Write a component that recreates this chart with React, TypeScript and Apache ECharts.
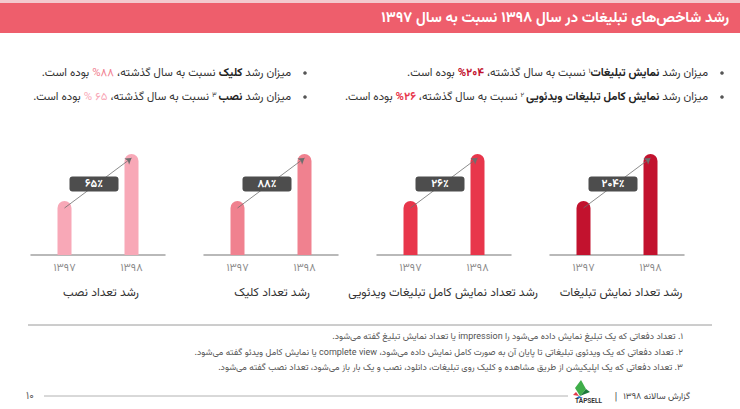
import React, { useEffect, useRef } from "react";
import * as echarts from "echarts";

// ---------- content ----------
const titleText = "رشد شاخص‌های تبلیغات در سال ۱۳۹۸ نسبت به سال ۱۳۹۷";
const years = ["۱۳۹۷", "۱۳۹۸"];
const panelTitles = [
  "رشد تعداد نصب",
  "رشد تعداد کلیک",
  "رشد تعداد نمایش کامل تبلیغات ویدئویی",
  "رشد تعداد نمایش تبلیغات",
];
const growthLabels = ["۶۵٪", "۸۸٪", "۲۶٪", "۲۰۴٪"];
// bar heights as drawn (schematic index values)
const bars1397 = [54, 54, 54, 54];
const bars1398 = [101, 101, 101, 101];
const panelColors = ["#F8A8B7", "#F0818F", "#E8364B", "#C2122E"];

// bullet lines: tokens in visual order (left to right)
const bulletRight1 = [
  ["reg", "بوده است."],
  ["p4", "%۲۰۴"],
  ["reg", "نسبت به سال گذشته،"],
  ["supn", "۱"],
  ["b", "نمایش تبلیغات"],
  ["reg", "میزان رشد"],
];
const bulletRight2 = [
  ["reg", "بوده است."],
  ["p3", "%۲۶"],
  ["reg", "نسبت به سال گذشته،"],
  ["sup", "۲"],
  ["b", "نمایش کامل تبلیغات ویدئویی"],
  ["reg", "میزان رشد"],
];
const bulletLeft1 = [
  ["reg", "بوده است."],
  ["p2", "%۸۸"],
  ["reg", "نسبت به سال گذشته،"],
  ["b", "کلیک"],
  ["reg", "میزان رشد"],
];
const bulletLeft2 = [
  ["reg", "بوده است."],
  ["p1", "% ۶۵"],
  ["reg", "نسبت به سال گذشته،"],
  ["sup", "۳"],
  ["b", "نصب"],
  ["reg", "میزان رشد"],
];

const footnotes = [
  "۱. تعداد دفعاتی که یک تبلیغ نمایش داده می‌شود را impression یا تعداد نمایش تبلیغ گفته می‌شود.",
  "۲. تعداد دفعاتی که یک ویدئوی تبلیغاتی تا پایان آن به صورت کامل نمایش داده می‌شود، complete view یا نمایش کامل ویدئو گفته می‌شود.",
  "۳. تعداد دفعاتی که یک اپلیکیشن از طریق مشاهده و کلیک روی تبلیغات، دانلود، نصب و یک بار باز می‌شود، تعداد نصب گفته می‌شود.",
];
const pageNumber = "۱۰";
const footerText = "گزارش سالانه ۱۳۹۸";
const brandText = "TAPSELL";

// ---------- helpers ----------
const FONT = "Vazirmatn, 'Noto Sans Arabic', 'DejaVu Sans', sans-serif";
const rtl = (s: string) => "\u202B" + s + "\u202C";
const FS = 11.4;

function richLine(tokens: string[][]) {
  return tokens
    .map(([k, s], i) => {
      const last = i === tokens.length - 1;
      const sp = last || k === "supn" ? "" : " ";
      const body = /^[%۰-۹ ]+$/.test(s) ? s : rtl(s);
      return `{${k}|${body}${sp}}`;
    })
    .join("");
}

const richStyles = {
  reg: { fontSize: FS, fontFamily: FONT, fill: "#333" },
  b: { fontSize: FS, fontFamily: FONT, fill: "#222", fontWeight: "bold" },
  sup: { fontSize: 7, fontFamily: FONT, fill: "#333", verticalAlign: "top" },
  supn: { fontSize: 7, fontFamily: FONT, fill: "#333", verticalAlign: "top" },
  p1: { fontSize: FS, fontFamily: FONT, fill: panelColors[0] },
  p2: { fontSize: FS, fontFamily: FONT, fill: panelColors[1] },
  p3: { fontSize: FS, fontFamily: FONT, fill: panelColors[2], fontWeight: "bold" },
  p4: { fontSize: FS, fontFamily: FONT, fill: panelColors[3], fontWeight: "bold" },
};

export default function App() {
  const ref = useRef<HTMLDivElement>(null);
  useEffect(() => {
    const el = ref.current!;
    const chart = echarts.init(el, null, { renderer: "svg" });
    const gridLefts = [31, 204, 377, 550];
    const gridW = 134;
    const titleCenters = [101, 272, 443, 621];

    const grids = gridLefts.map((l) => ({ left: l, width: gridW, top: 145, height: 110 }));
    const xAxes = gridLefts.map((_, i) => ({
      type: "category",
      gridIndex: i,
      data: years,
      axisLine: { lineStyle: { color: "#a3a3a3", width: 1.5 } },
      axisTick: { show: false },
      axisLabel: { color: "#8c8c8c", fontSize: 11, fontFamily: FONT, margin: 8 },
    }));
    const yAxes = gridLefts.map((_, i) => ({
      type: "value",
      gridIndex: i,
      min: 0,
      max: 110,
      show: false,
      splitLine: { show: false },
    }));
    const series = gridLefts.map((_, i) => ({
      type: "bar",
      xAxisIndex: i,
      yAxisIndex: i,
      barWidth: 14,
      data: [bars1397[i], bars1398[i]],
      itemStyle: { color: panelColors[i], borderRadius: [7, 7, 0, 0] },
      silent: true,
      markLine: {
        silent: true,
        symbol: ["none", "arrow"],
        symbolSize: 6,
        lineStyle: { color: "#6e6e6e", width: 0.8, type: "solid" },
        label: { show: false },
        data: [[{ coord: [0, bars1397[i] - 7] }, { coord: [1, bars1398[i] - 4] }]],
      },
    }));

    const staticGraphics: any[] = [];
    staticGraphics.push({ type: "rect", shape: { x: 0, y: 0, width: 740, height: 409 }, style: { fill: "#ffffff" }, z: -10 });
    staticGraphics.push({ type: "rect", shape: { x: 0, y: 0, width: 740, height: 3 }, style: { fill: "#f3c9ce" } });
    staticGraphics.push({ type: "rect", shape: { x: 0, y: 3, width: 740, height: 30 }, style: { fill: "#EE5E6C" } });
    staticGraphics.push({
      type: "text",
      style: { text: rtl(titleText), x: 729, y: 18, align: "right", verticalAlign: "middle", fill: "#fff", font: `bold 14.8px ${FONT}` },
    });
    const lines = [
      { t: bulletRight1, x: 708, y: 73, bx: 722 },
      { t: bulletRight2, x: 708, y: 97, bx: 722 },
      { t: bulletLeft1, x: 291, y: 73, bx: 305 },
      { t: bulletLeft2, x: 291, y: 97, bx: 305 },
    ];
    lines.forEach((ln) => {
      staticGraphics.push({ type: "circle", shape: { cx: ln.bx, cy: ln.y, r: 1.8 }, style: { fill: "#555" } });
      staticGraphics.push({
        type: "text",
        style: { text: richLine(ln.t), rich: richStyles, x: ln.x, y: ln.y, align: "right", verticalAlign: "middle" },
      });
    });
    gridLefts.forEach((_, i) => {
      staticGraphics.push({
        type: "text",
        style: { text: rtl(panelTitles[i]), x: titleCenters[i], y: 293, align: "center", verticalAlign: "middle", fill: "#333", font: `12px ${FONT}` },
      });
    });
    staticGraphics.push({ type: "line", shape: { x1: 28, y1: 325, x2: 712, y2: 325 }, style: { stroke: "#9a9a9a", lineWidth: 1 } });
    footnotes.forEach((f, i) => {
      staticGraphics.push({
        type: "text",
        style: { text: rtl(f), x: 683, y: 337 + i * 15.5, align: "right", verticalAlign: "middle", fill: "#555", font: `9px ${FONT}` },
      });
    });
    staticGraphics.push({ type: "text", style: { text: pageNumber, x: 30, y: 396, align: "center", verticalAlign: "middle", fill: "#666", font: `11px ${FONT}` } });
    staticGraphics.push({ type: "line", shape: { x1: 44, y1: 396, x2: 568, y2: 396 }, style: { stroke: "#a0a0a0", lineWidth: 0.8 } });
    staticGraphics.push({ type: "polygon", shape: { points: [[580, 396], [575, 388], [581, 380], [586, 389]] }, style: { fill: "#3fae49" } });
    staticGraphics.push({ type: "polygon", shape: { points: [[580, 396], [586, 389], [590, 392]] }, style: { fill: "#1b7a3a" } });
    staticGraphics.push({ type: "polygon", shape: { points: [[576, 392], [579, 396], [573, 395]] }, style: { fill: "#e23a4b" } });
    staticGraphics.push({ type: "polygon", shape: { points: [[579, 396], [583, 398], [576, 398]] }, style: { fill: "#2a6fc0" } });
    staticGraphics.push({ type: "text", style: { text: brandText, x: 575, y: 401, align: "left", verticalAlign: "middle", fill: "#333", font: `bold 6.5px ${FONT}` } });
    staticGraphics.push({ type: "text", style: { text: "|", x: 616, y: 397, align: "center", verticalAlign: "middle", fill: "#444", font: `10px ${FONT}` } });
    staticGraphics.push({ type: "text", style: { text: rtl(footerText), x: 690, y: 397, align: "right", verticalAlign: "middle", fill: "#444", font: `9px ${FONT}` } });

    const option: any = {
      animation: false,
      backgroundColor: "#ffffff",
      grid: grids,
      xAxis: xAxes,
      yAxis: yAxes,
      series,
      graphic: { elements: staticGraphics },
    };
    chart.setOption(option);

    const boxes: any[] = [];
    gridLefts.forEach((_, i) => {
      const a = chart.convertToPixel({ gridIndex: i }, [0, bars1397[i] - 7]) as number[];
      const b = chart.convertToPixel({ gridIndex: i }, [1, bars1398[i] - 4]) as number[];
      const cx = (a[0] + b[0]) / 2 - 4;
      const cy = (a[1] + b[1]) / 2 + 1;
      boxes.push({
        type: "rect",
        shape: { x: cx - 24.5, y: cy - 7.5, width: 49, height: 15, r: 3 },
        style: { fill: "#4d4d4d" },
        z: 100,
      });
      boxes.push({
        type: "text",
        style: { text: growthLabels[i], x: cx, y: cy + 0.5, align: "center", verticalAlign: "middle", fill: "#fff", font: `bold 11px ${FONT}` },
        z: 101,
      });
    });
    chart.setOption({ graphic: { elements: [...staticGraphics, ...boxes] } });

    return () => chart.dispose();
  }, []);
  return <div ref={ref} style={{ position: "absolute", left: 0, top: 0, width: 740, height: 409 }} />;
}
